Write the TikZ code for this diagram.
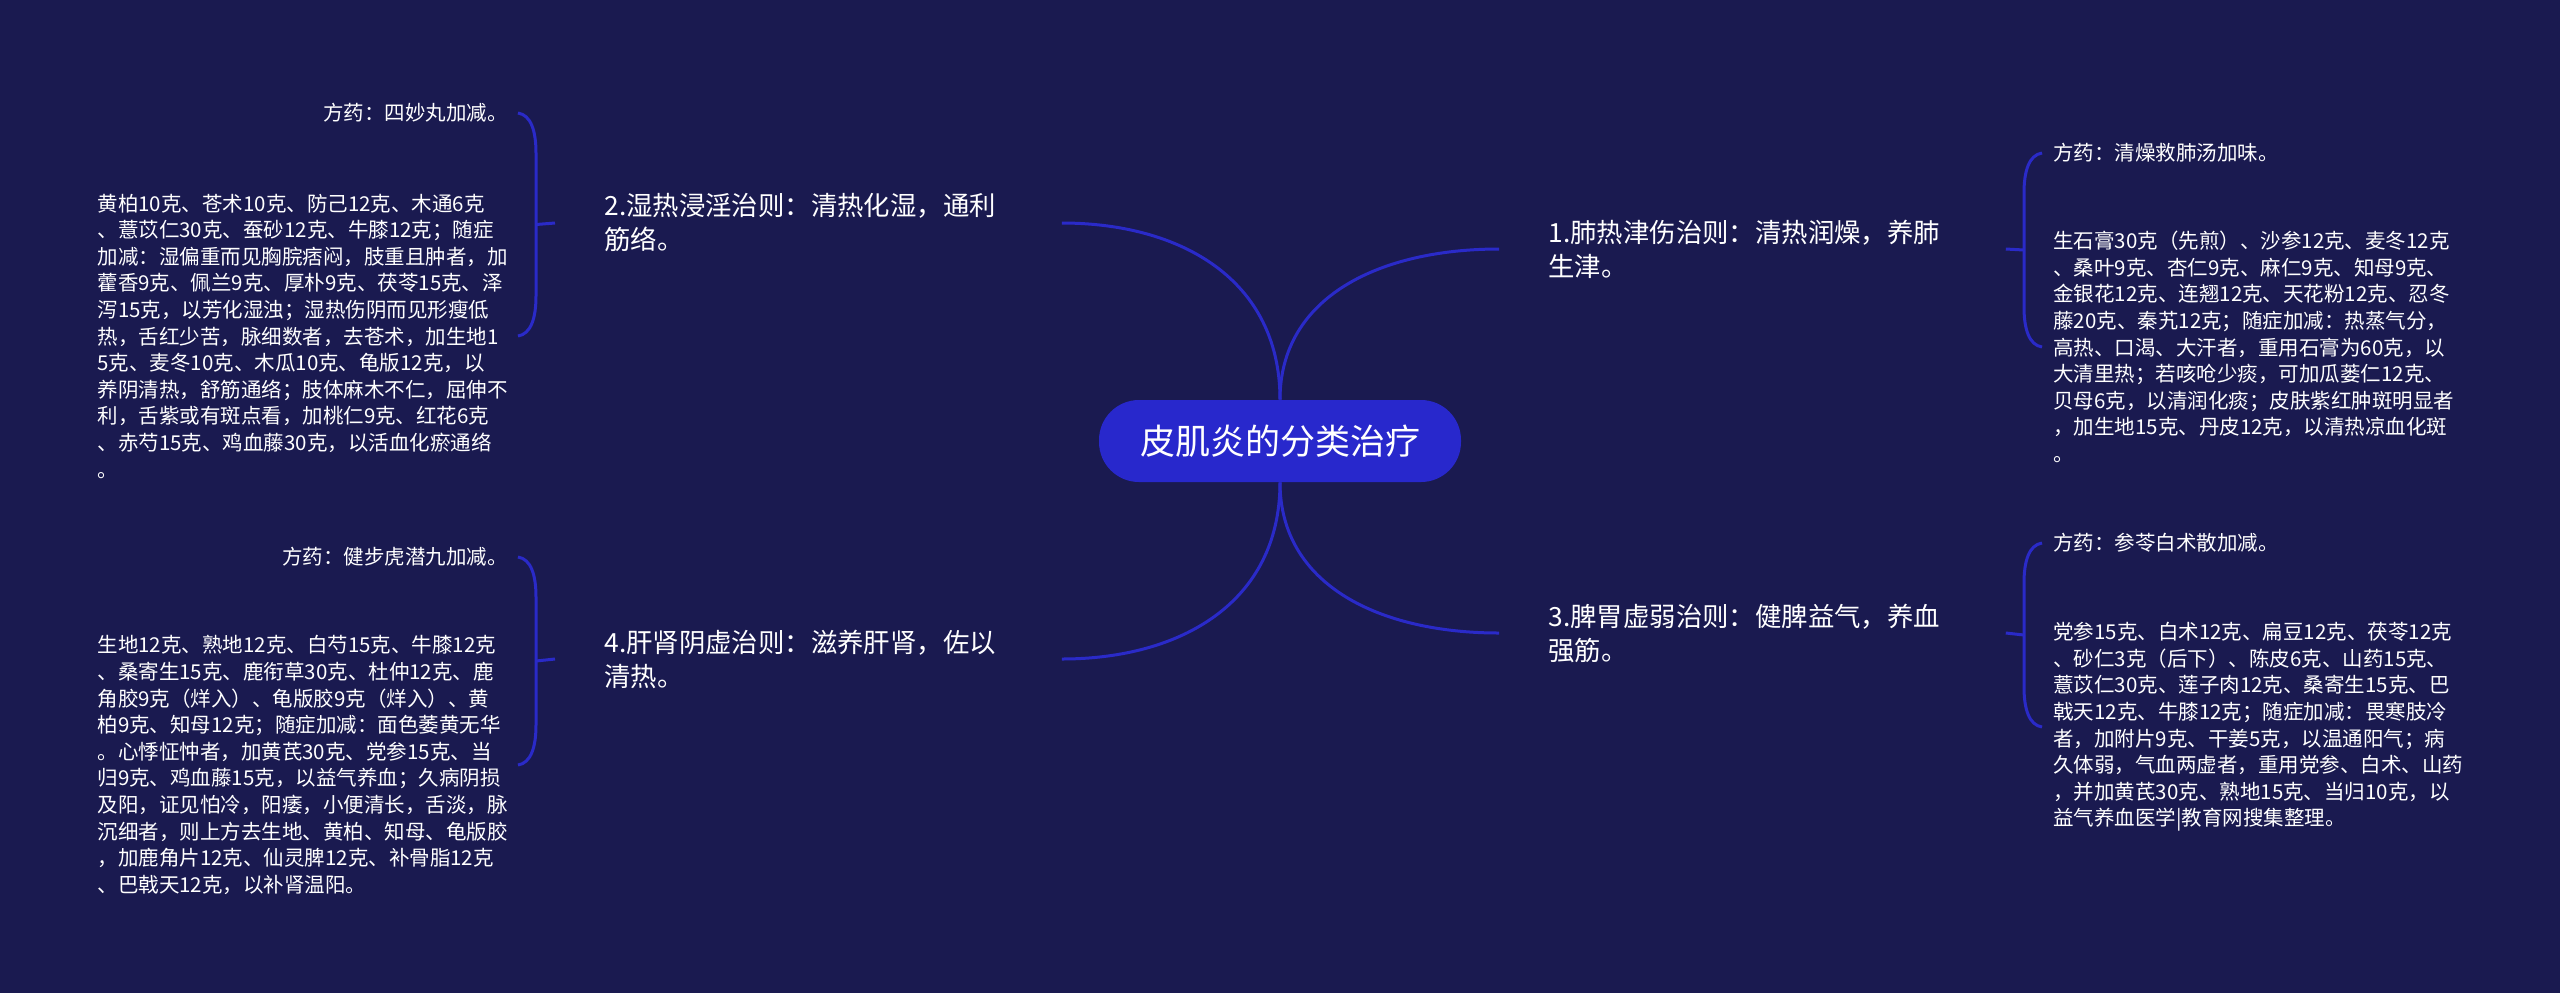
\documentclass[tikz,border=0pt]{standalone}
\usepackage{fontspec}
\setmainfont{Noto Sans CJK SC}
\usetikzlibrary{calc}
\definecolor{bg}{RGB}{26,26,80}
\definecolor{ln}{RGB}{42,42,200}
\definecolor{rootfill}{RGB}{40,40,204}
\begin{document}
\begin{tikzpicture}[x=0.5pt,y=-0.5pt,
  conn/.style={draw=ln, line width=1.5pt},
  rootnode/.style={fill=rootfill, rounded corners=20pt, minimum width=181pt, minimum height=41pt, text=white, font=\fontsize{17.5pt}{21pt}\selectfont, inner sep=0pt},
  branch/.style={text=white, font=\fontsize{13.2pt}{17pt}\selectfont, text width=228.5pt, align=left, inner sep=0pt},
  leaf/.style={text=white, font=\fontsize{10.25pt}{13.3pt}\selectfont, inner sep=0pt},
  leafbox/.style={leaf, align=left},
]
\fill[bg] (0,0) rectangle (2560,993);
\useasboundingbox (0,0) rectangle (2560,993);

% root
\node[rootnode] (root) at (1280,441) {皮肌炎的分类治疗};

% branches
\node[branch, anchor=west] (b1) at (1548,249) {1.肺热津伤治则：清热润燥，养肺\\生津。};
\node[branch, anchor=west] (b3) at (1548,633) {3.脾胃虚弱治则：健脾益气，养血\\强筋。};
\node[branch, anchor=west] (b2) at (604,223) {2.湿热浸淫治则：清热化湿，通利\\筋络。};
\node[branch, anchor=west] (b4) at (604,659) {4.肝肾阴虚治则：滋养肝肾，佐以\\清热。};

\draw[conn] (root.north) .. controls +(0,-120) and +(119,0) .. (b2.east);
\draw[conn] (root.north) .. controls +(0,-103) and +(-119,0) .. ($(b1.west)+(-49,0)$);
\draw[conn] (root.south) .. controls +(0,120) and +(119,0) .. (b4.east);
\draw[conn] (root.south) .. controls +(0,103) and +(-119,0) .. ($(b3.west)+(-49,0)$);

% leaves of branch 2
\node[leaf, anchor=east] (s2a) at (508,113) {方药：四妙丸加减。};
\node[leafbox, anchor=east, text width=205pt] (s2b) at (508,336) {黄柏10克、苍术10克、防己12克、木通6克\\、薏苡仁30克、蚕砂12克、牛膝12克；随症\\加减：湿偏重而见胸脘痞闷，肢重且肿者，加\\藿香9克、佩兰9克、厚朴9克、茯苓15克、泽\\泻15克，以芳化湿浊；湿热伤阴而见形瘦低\\热，舌红少苦，脉细数者，去苍术，加生地1\\5克、麦冬10克、木瓜10克、龟版12克，以\\养阴清热，舒筋通络；肢体麻木不仁，屈伸不\\利，舌紫或有斑点看，加桃仁9克、红花6克\\、赤芍15克、鸡血藤30克，以活血化瘀通络\\。};

% leaves of branch 4
\node[leaf, anchor=east] (s4a) at (508,557) {方药：健步虎潜九加减。};
\node[leafbox, anchor=east, text width=205pt] (s4b) at (508,765) {生地12克、熟地12克、白芍15克、牛膝12克\\、桑寄生15克、鹿衔草30克、杜仲12克、鹿\\角胶9克（烊入）、龟版胶9克（烊入）、黄\\柏9克、知母12克；随症加减：面色萎黄无华\\。心悸怔忡者，加黄芪30克、党参15克、当\\归9克、鸡血藤15克，以益气养血；久病阴损\\及阳，证见怕冷，阳痿，小便清长，舌淡，脉\\沉细者，则上方去生地、黄柏、知母、龟版胶\\，加鹿角片12克、仙灵脾12克、补骨脂12克\\、巴戟天12克，以补肾温阳。};

% leaves of branch 1
\node[leaf, anchor=west] (s1a) at (2053,153) {方药：清燥救肺汤加味。};
\node[leafbox, anchor=west, text width=210pt] (s1b) at (2053,347) {生石膏30克（先煎）、沙参12克、麦冬12克\\、桑叶9克、杏仁9克、麻仁9克、知母9克、\\金银花12克、连翘12克、天花粉12克、忍冬\\藤20克、秦艽12克；随症加减：热蒸气分，\\高热、口渴、大汗者，重用石膏为60克，以\\大清里热；若咳呛少痰，可加瓜蒌仁12克、\\贝母6克，以清润化痰；皮肤紫红肿斑明显者\\，加生地15克、丹皮12克，以清热凉血化斑\\。};

% leaves of branch 3
\node[leaf, anchor=west] (s3a) at (2053,543) {方药：参苓白术散加减。};
\node[leafbox, anchor=west, text width=210pt] (s3b) at (2053,727) {党参15克、白术12克、扁豆12克、茯苓12克\\、砂仁3克（后下）、陈皮6克、山药15克、\\薏苡仁30克、莲子肉12克、桑寄生15克、巴\\戟天12克、牛膝12克；随症加减：畏寒肢冷\\者，加附片9克、干姜5克，以温通阳气；病\\久体弱，气血两虚者，重用党参、白术、山药\\，并加黄芪30克、熟地15克、当归10克，以\\益气养血医学|教育网搜集整理。};

% brackets left
\coordinate (k2t) at ($(s2a.east)+(10,0)$);
\coordinate (k2b) at ($(s2b.east)+(10,0)$);
\draw[conn] (k2t) .. controls +(13,2) and +(0,-22) .. ($(k2t)+(18,40)$) -- ($(k2b)+(18,-40)$) .. controls +(0,22) and +(13,-2) .. (k2b);
\draw[conn] ($(k2t)!0.5!(k2b)+(18,0)$) -- ($(b2.west)+(-49,0)$);

\coordinate (k4t) at ($(s4a.east)+(10,0)$);
\coordinate (k4b) at ($(s4b.east)+(10,0)$);
\draw[conn] (k4t) .. controls +(13,2) and +(0,-22) .. ($(k4t)+(18,40)$) -- ($(k4b)+(18,-40)$) .. controls +(0,22) and +(13,-2) .. (k4b);
\draw[conn] ($(k4t)!0.5!(k4b)+(18,0)$) -- ($(b4.west)+(-49,0)$);

% brackets right
\coordinate (k1t) at ($(s1a.west)+(-11,0)$);
\coordinate (k1b) at ($(s1b.west)+(-11,0)$);
\draw[conn] (k1t) .. controls +(-13,2) and +(0,-22) .. ($(k1t)+(-18,40)$) -- ($(k1b)+(-18,-40)$) .. controls +(0,22) and +(-13,-2) .. (k1b);
\draw[conn] ($(k1t)!0.5!(k1b)+(-18,0)$) -- (b1.east);

\coordinate (k3t) at ($(s3a.west)+(-11,0)$);
\coordinate (k3b) at ($(s3b.west)+(-11,0)$);
\draw[conn] (k3t) .. controls +(-13,2) and +(0,-22) .. ($(k3t)+(-18,40)$) -- ($(k3b)+(-18,-40)$) .. controls +(0,22) and +(-13,-2) .. (k3b);
\draw[conn] ($(k3t)!0.5!(k3b)+(-18,0)$) -- (b3.east);
\end{tikzpicture}
\end{document}
